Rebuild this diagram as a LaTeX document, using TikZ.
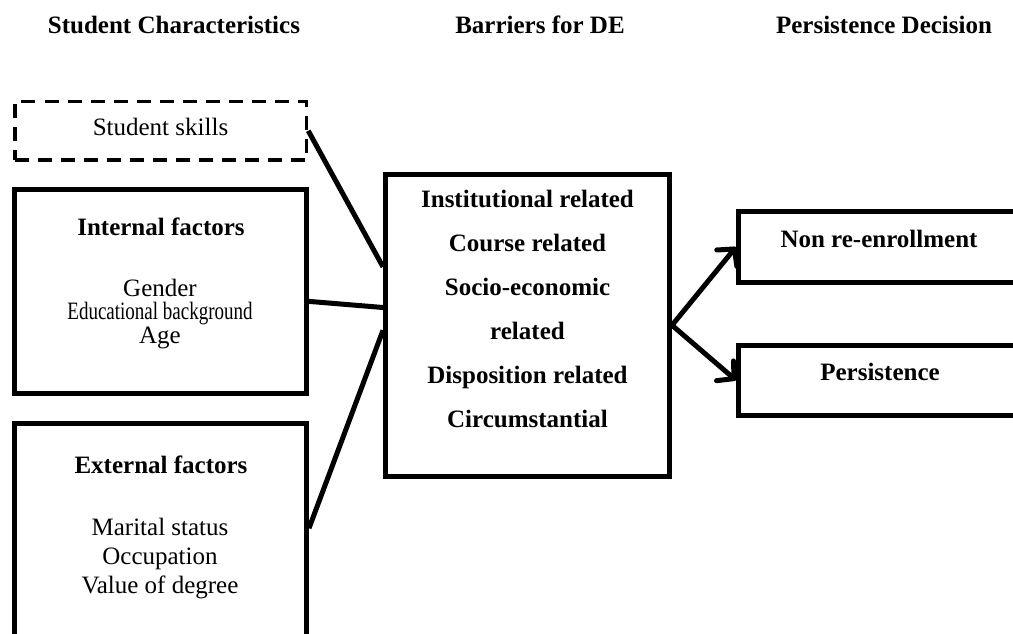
\documentclass[tikz,border=0pt]{standalone}
\usepackage{graphicx}
\usepackage{fontspec}
\setmainfont{Liberation Serif}
\usetikzlibrary{arrows.meta}

\tikzset{
    box/.style = {draw, line width=2.5pt, inner sep=0pt},
    dashbox/.style = {draw, line width=1.75pt, dash pattern=on 7pt off 4.5pt, inner sep=0pt},
    link/.style = {line width=2.5pt},
    arr/.style = {line width=2.5pt, -{Straight Barb[length=6pt,width=13pt,round]}},
    txt/.style = {inner sep=0pt, anchor=base, align=center, font=\fontsize{12.5}{15}\selectfont},
    btxt/.style = {txt, font=\fontsize{12.5}{15}\selectfont\bfseries},
}

\begin{document}
\begin{tikzpicture}[x = 0.5pt, y = -0.5pt]
    \useasboundingbox (0,0) rectangle (1013,633);
    \clip (0,0) rectangle (1013,633);

    \node[btxt] (hStudent) at (174,33) {Student Characteristics};
    \node[btxt] (hBarriers) at (540,33) {Barriers for DE};
    \node[btxt] (hDecision) at (884,33) {Persistence Decision};

    \node[dashbox, minimum width=145.75pt, minimum height=29.25pt] (skills) at (160.75,130.75) {};
    \node[box, minimum width=146pt, minimum height=102pt] (internal) at (160.5,291) {};
    \node[box, minimum width=146pt, minimum height=128.25pt] (external) at (160.5,551.75) {};
    \node[box, minimum width=142pt, minimum height=150.75pt] (barriers) at (527.5,325.25) {};
    \node[box, minimum width=150.75pt, minimum height=35.5pt] (nonre) at (889.25,247) {};
    \node[box, minimum width=150.75pt, minimum height=35.25pt] (persist) at (889.25,380.25) {};

    \node[txt] (tSkills) at (160.5,135) {Student skills};
    \node[btxt] (tInternal) at (161,235) {Internal factors};
    \node[txt, font=\fontsize{12.5}{11.75}\selectfont] (tIntItems) at (160,343)
        {Gender\\ \scalebox{0.76}[1]{Educational background}\\ Age};
    \node[btxt] (tExternal) at (161,473) {External factors};
    \node[txt, font=\fontsize{12.5}{14.5}\selectfont] (tExtItems) at (160,593)
        {Marital status\\ Occupation\\ Value of degree};
    \node[btxt, font=\fontsize{12.5}{22}\selectfont\bfseries] (tBarriers) at (527.5,427)
        {Institutional related\\ Course related\\ Socio-economic\\ related\\ Disposition related\\ Circumstantial};
    \node[btxt] (tNonre) at (879,247) {Non re-enrollment};
    \node[btxt] (tPersist) at (880,380) {Persistence};

    \draw[link] (skills.east) -- (barriers.158.7);
    \draw[link] (internal.-4.3) -- (barriers.173);
    \draw[link] (external.9.2) -- (barriers.182);
    \draw[arr] (barriers.east) -- (nonre.west);
    \draw[arr] (barriers.east) -- (persist.west);
\end{tikzpicture}
\end{document}
